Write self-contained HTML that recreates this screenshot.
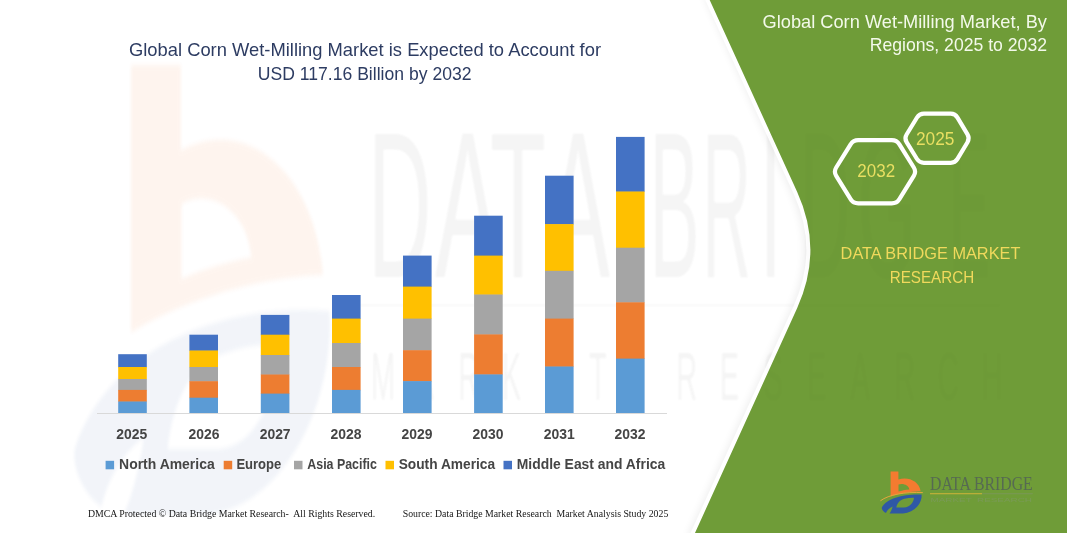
<!DOCTYPE html>
<html><head><meta charset="utf-8">
<style>
html,body{margin:0;padding:0;}
body{width:1067px;height:533px;overflow:hidden;background:#fff;font-family:"Liberation Sans",sans-serif;}
svg{display:block;}
text{white-space:pre;}
</style></head><body>
<svg width="1067" height="533" viewBox="0 0 1067 533">
<defs>
<filter id="b1"><feGaussianBlur stdDeviation="1"/></filter>
<filter id="b4" x="-10%" y="-10%" width="120%" height="120%"><feGaussianBlur stdDeviation="0.25"/></filter>
<filter id="sh" x="-10%" y="-10%" width="120%" height="120%"><feGaussianBlur stdDeviation="4"/></filter>
</defs>
<rect width="1067" height="533" fill="#ffffff"/>
<!-- watermark logo -->
<g opacity="0.08" filter="url(#b4)" transform="translate(131,65) scale(6.4,10.7) translate(-890.6,-471.6)">
<path fill-rule="evenodd" d="M890.6 471.6 L898.4 471.6 L898.4 479.6 C908 476.3 919.2 481.2 920.6 491.2 C910 491.5 899 493.5 890.6 496.6 Z M898.5 484.6 C903 483 908.8 485.2 909.4 489.6 C905.5 490 901.5 490.8 898.5 491.6 Z" fill="#f47b30"/>
<path fill-rule="evenodd" d="M881.8 507.5 C887 498 905 493.8 921.6 494.6 C922.4 503 915 512.4 903 513.6 L889.5 513.6 C891 511.5 892 509 892.6 506.4 C889.5 507.8 887 510.2 886 512.9 C883.5 511.8 881.4 509.6 881.8 507.5 Z M896.3 507.5 C897.3 502.6 900 499.9 904.5 498.7 C908 497.9 911 497.6 914 497.8 C913.6 502.4 910 507.5 904 507.5 Z" fill="#2f58a5" opacity="0.8"/>
</g>
<g fill="#000" opacity="0.03" filter="url(#b1)">
<g font-family="Liberation Sans" font-size="207"><text x="368.0" y="277" textLength="63.5" lengthAdjust="spacingAndGlyphs">D</text><text x="435.0" y="277" textLength="65.0" lengthAdjust="spacingAndGlyphs">A</text><text x="490.0" y="277" textLength="56.0" lengthAdjust="spacingAndGlyphs">T</text><text x="546.0" y="277" textLength="64.0" lengthAdjust="spacingAndGlyphs">A</text><text x="649.4" y="277" textLength="50.0" lengthAdjust="spacingAndGlyphs">B</text><text x="702.6" y="277" textLength="48.5" lengthAdjust="spacingAndGlyphs">R</text><text x="759.7" y="277" textLength="22.0" lengthAdjust="spacingAndGlyphs">I</text><text x="800.0" y="277" textLength="50.0" lengthAdjust="spacingAndGlyphs">D</text><text x="858.0" y="277" textLength="58.0" lengthAdjust="spacingAndGlyphs">G</text><text x="949.0" y="277" textLength="41.0" lengthAdjust="spacingAndGlyphs">E</text></g>
<rect x="360" y="304.5" width="640" height="1.5"/>
<g transform="translate(371,400) scale(0.42,1)" font-family="Liberation Sans" font-size="69"><text x="0.0" y="0">M</text><text x="103.8" y="0">A</text><text x="207.6" y="0">R</text><text x="311.4" y="0">K</text><text x="415.2" y="0">E</text><text x="519.0" y="0">T</text><text x="726.7" y="0">R</text><text x="830.5" y="0">E</text><text x="934.3" y="0">S</text><text x="1038.1" y="0">E</text><text x="1141.9" y="0">A</text><text x="1245.7" y="0">R</text><text x="1349.5" y="0">C</text><text x="1453.3" y="0">H</text></g>
</g>
<!-- green panel -->
<path d="M703.7 -5 L791.2 191.9 Q817.6 249.8 791.2 307.9 L687 538 L1080 538 L1080 -5 Z" fill="#000" opacity="0.07" filter="url(#sh)"/>
<path d="M707.4 -5 L797.2 191.9 Q823.6 249.8 797.2 307.9 L692.7 538 L1080 538 L1080 -5 Z" fill="#fff" stroke="#fff" stroke-width="8"/>
<path d="M707.4 -5 L797.2 191.9 Q823.6 249.8 797.2 307.9 L692.7 538 L1080 538 L1080 -5 Z" fill="#6f9c38"/>
<!-- watermark text -->
<g fill="#000" opacity="0.013" filter="url(#b1)">
<g font-family="Liberation Sans" font-size="207"><text x="368.0" y="277" textLength="63.5" lengthAdjust="spacingAndGlyphs">D</text><text x="435.0" y="277" textLength="65.0" lengthAdjust="spacingAndGlyphs">A</text><text x="490.0" y="277" textLength="56.0" lengthAdjust="spacingAndGlyphs">T</text><text x="546.0" y="277" textLength="64.0" lengthAdjust="spacingAndGlyphs">A</text><text x="649.4" y="277" textLength="50.0" lengthAdjust="spacingAndGlyphs">B</text><text x="702.6" y="277" textLength="48.5" lengthAdjust="spacingAndGlyphs">R</text><text x="759.7" y="277" textLength="22.0" lengthAdjust="spacingAndGlyphs">I</text><text x="800.0" y="277" textLength="50.0" lengthAdjust="spacingAndGlyphs">D</text><text x="858.0" y="277" textLength="58.0" lengthAdjust="spacingAndGlyphs">G</text><text x="949.0" y="277" textLength="41.0" lengthAdjust="spacingAndGlyphs">E</text></g>
<rect x="360" y="304.5" width="640" height="1.5"/>
<g transform="translate(371,400) scale(0.42,1)" font-family="Liberation Sans" font-size="69"><text x="0.0" y="0">M</text><text x="103.8" y="0">A</text><text x="207.6" y="0">R</text><text x="311.4" y="0">K</text><text x="415.2" y="0">E</text><text x="519.0" y="0">T</text><text x="726.7" y="0">R</text><text x="830.5" y="0">E</text><text x="934.3" y="0">S</text><text x="1038.1" y="0">E</text><text x="1141.9" y="0">A</text><text x="1245.7" y="0">R</text><text x="1349.5" y="0">C</text><text x="1453.3" y="0">H</text></g>
</g>
<!-- axis -->
<rect x="97" y="413" width="570" height="1" fill="#d9d9d9"/>
<rect x="118.2" y="354.2" width="28.6" height="13.2" fill="#4472c4"/>
<rect x="118.2" y="367.0" width="28.6" height="12.4" fill="#ffc000"/>
<rect x="118.2" y="379.0" width="28.6" height="11.3" fill="#a5a5a5"/>
<rect x="118.2" y="389.9" width="28.6" height="12.0" fill="#ed7d31"/>
<rect x="118.2" y="401.5" width="28.6" height="11.5" fill="#5b9bd5"/>
<rect x="189.4" y="334.7" width="28.6" height="16.2" fill="#4472c4"/>
<rect x="189.4" y="350.5" width="28.6" height="16.9" fill="#ffc000"/>
<rect x="189.4" y="367.0" width="28.6" height="14.6" fill="#a5a5a5"/>
<rect x="189.4" y="381.2" width="28.6" height="16.9" fill="#ed7d31"/>
<rect x="189.4" y="397.7" width="28.6" height="15.3" fill="#5b9bd5"/>
<rect x="260.8" y="314.9" width="28.6" height="20.2" fill="#4472c4"/>
<rect x="260.8" y="334.7" width="28.6" height="20.7" fill="#ffc000"/>
<rect x="260.8" y="355.0" width="28.6" height="19.9" fill="#a5a5a5"/>
<rect x="260.8" y="374.5" width="28.6" height="19.5" fill="#ed7d31"/>
<rect x="260.8" y="393.6" width="28.6" height="19.4" fill="#5b9bd5"/>
<rect x="332.0" y="295.0" width="28.6" height="24.0" fill="#4472c4"/>
<rect x="332.0" y="318.6" width="28.6" height="24.8" fill="#ffc000"/>
<rect x="332.0" y="343.0" width="28.6" height="24.4" fill="#a5a5a5"/>
<rect x="332.0" y="367.0" width="28.6" height="23.3" fill="#ed7d31"/>
<rect x="332.0" y="389.9" width="28.6" height="23.1" fill="#5b9bd5"/>
<rect x="403.0" y="255.6" width="28.6" height="31.4" fill="#4472c4"/>
<rect x="403.0" y="286.6" width="28.6" height="32.4" fill="#ffc000"/>
<rect x="403.0" y="318.6" width="28.6" height="32.0" fill="#a5a5a5"/>
<rect x="403.0" y="350.2" width="28.6" height="31.3" fill="#ed7d31"/>
<rect x="403.0" y="381.1" width="28.6" height="31.9" fill="#5b9bd5"/>
<rect x="474.1" y="215.7" width="28.6" height="40.3" fill="#4472c4"/>
<rect x="474.1" y="255.6" width="28.6" height="39.3" fill="#ffc000"/>
<rect x="474.1" y="294.5" width="28.6" height="40.3" fill="#a5a5a5"/>
<rect x="474.1" y="334.4" width="28.6" height="40.4" fill="#ed7d31"/>
<rect x="474.1" y="374.4" width="28.6" height="38.6" fill="#5b9bd5"/>
<rect x="545.0" y="175.7" width="28.6" height="48.8" fill="#4472c4"/>
<rect x="545.0" y="224.1" width="28.6" height="47.1" fill="#ffc000"/>
<rect x="545.0" y="270.8" width="28.6" height="48.2" fill="#a5a5a5"/>
<rect x="545.0" y="318.6" width="28.6" height="48.3" fill="#ed7d31"/>
<rect x="545.0" y="366.5" width="28.6" height="46.5" fill="#5b9bd5"/>
<rect x="616.0" y="136.9" width="28.6" height="55.0" fill="#4472c4"/>
<rect x="616.0" y="191.5" width="28.6" height="56.6" fill="#ffc000"/>
<rect x="616.0" y="247.7" width="28.6" height="55.0" fill="#a5a5a5"/>
<rect x="616.0" y="302.3" width="28.6" height="56.7" fill="#ed7d31"/>
<rect x="616.0" y="358.6" width="28.6" height="54.4" fill="#5b9bd5"/>

<!-- hexagons -->
<g fill="none" stroke="#fff" stroke-width="4.2" stroke-linejoin="round">
<path d="M836.2 175.9 Q833.6 171.7 836.2 167.5 L850.6 144.4 Q853.2 140.2 858.2 140.2 L891.8 140.2 Q896.8 140.2 899.4 144.4 L913.8 167.5 Q916.4 171.7 913.8 175.9 L899.4 199.1 Q896.8 203.3 891.8 203.3 L858.2 203.3 Q853.2 203.3 850.6 199.1 Z"/>
<path d="M906.6 142.1 Q904.2 138.3 906.6 134.5 L917.0 117.5 Q919.4 113.7 923.9 113.7 L950.7 113.7 Q955.2 113.7 957.5 117.6 L967.5 134.4 Q969.8 138.3 967.5 142.2 L957.5 158.9 Q955.2 162.8 950.7 162.8 L923.9 162.8 Q919.4 162.8 917.0 159.0 Z" fill="#6f9c38"/>
</g>
<text x="129.0" y="56.1" font-family="Liberation Sans" font-size="17.80" font-weight="normal" fill="#2d3c62" textLength="472.0" lengthAdjust="spacingAndGlyphs" >Global Corn Wet-Milling Market is Expected to Account for</text>
<text x="257.8" y="80.0" font-family="Liberation Sans" font-size="17.80" font-weight="normal" fill="#2d3c62" textLength="213.7" lengthAdjust="spacingAndGlyphs" >USD 117.16 Billion by 2032</text>
<text x="762.5" y="27.6" font-family="Liberation Sans" font-size="17.80" font-weight="normal" fill="#f3f9ea" textLength="284.5" lengthAdjust="spacingAndGlyphs" >Global Corn Wet-Milling Market, By</text>
<text x="869.7" y="51.1" font-family="Liberation Sans" font-size="17.80" font-weight="normal" fill="#f3f9ea" textLength="177.3" lengthAdjust="spacingAndGlyphs" >Regions, 2025 to 2032</text>
<text x="840.6" y="258.5" font-family="Liberation Sans" font-size="17.30" font-weight="normal" fill="#f0d95c" textLength="179.8" lengthAdjust="spacingAndGlyphs" >DATA BRIDGE MARKET</text>
<text x="889.7" y="282.6" font-family="Liberation Sans" font-size="17.30" font-weight="normal" fill="#f0d95c" textLength="84.5" lengthAdjust="spacingAndGlyphs" >RESEARCH</text>
<text x="857.3" y="177.0" font-family="Liberation Sans" font-size="18.00" font-weight="normal" fill="#e9df62" textLength="37.8" lengthAdjust="spacingAndGlyphs" >2032</text>
<text x="915.9" y="144.9" font-family="Liberation Sans" font-size="18.00" font-weight="normal" fill="#e9df62" textLength="38.5" lengthAdjust="spacingAndGlyphs" >2025</text>
<text x="116.3" y="439.1" font-family="Liberation Sans" font-size="14.20" font-weight="bold" fill="#454545" textLength="30.9" lengthAdjust="spacingAndGlyphs" >2025</text>
<text x="188.6" y="439.1" font-family="Liberation Sans" font-size="14.20" font-weight="bold" fill="#454545" textLength="30.9" lengthAdjust="spacingAndGlyphs" >2026</text>
<text x="259.7" y="439.1" font-family="Liberation Sans" font-size="14.20" font-weight="bold" fill="#454545" textLength="30.9" lengthAdjust="spacingAndGlyphs" >2027</text>
<text x="330.5" y="439.1" font-family="Liberation Sans" font-size="14.20" font-weight="bold" fill="#454545" textLength="31.0" lengthAdjust="spacingAndGlyphs" >2028</text>
<text x="401.5" y="439.1" font-family="Liberation Sans" font-size="14.20" font-weight="bold" fill="#454545" textLength="30.9" lengthAdjust="spacingAndGlyphs" >2029</text>
<text x="472.6" y="439.1" font-family="Liberation Sans" font-size="14.20" font-weight="bold" fill="#454545" textLength="30.9" lengthAdjust="spacingAndGlyphs" >2030</text>
<text x="543.7" y="439.1" font-family="Liberation Sans" font-size="14.20" font-weight="bold" fill="#454545" textLength="31.0" lengthAdjust="spacingAndGlyphs" >2031</text>
<text x="614.6" y="439.1" font-family="Liberation Sans" font-size="14.20" font-weight="bold" fill="#454545" textLength="30.9" lengthAdjust="spacingAndGlyphs" >2032</text>
<rect x="105.6" y="460.8" width="8.5" height="8.5" fill="#5b9bd5"/>
<text x="119.1" y="469.2" font-family="Liberation Sans" font-size="14.20" font-weight="bold" fill="#454545" textLength="95.6" lengthAdjust="spacingAndGlyphs" >North America</text>
<rect x="223.7" y="460.8" width="8.5" height="8.5" fill="#ed7d31"/>
<text x="236.4" y="469.2" font-family="Liberation Sans" font-size="14.20" font-weight="bold" fill="#454545" textLength="44.9" lengthAdjust="spacingAndGlyphs" >Europe</text>
<rect x="294.0" y="460.8" width="8.5" height="8.5" fill="#a5a5a5"/>
<text x="307.3" y="469.2" font-family="Liberation Sans" font-size="14.20" font-weight="bold" fill="#454545" textLength="69.6" lengthAdjust="spacingAndGlyphs" >Asia Pacific</text>
<rect x="385.5" y="460.8" width="8.5" height="8.5" fill="#ffc000"/>
<text x="398.7" y="469.2" font-family="Liberation Sans" font-size="14.20" font-weight="bold" fill="#454545" textLength="96.4" lengthAdjust="spacingAndGlyphs" >South America</text>
<rect x="503.5" y="460.8" width="8.5" height="8.5" fill="#4472c4"/>
<text x="516.8" y="469.2" font-family="Liberation Sans" font-size="14.20" font-weight="bold" fill="#454545" textLength="148.4" lengthAdjust="spacingAndGlyphs" >Middle East and Africa</text>
<text x="87.9" y="517.4" font-family="Liberation Serif" font-size="9.50" font-weight="normal" fill="#151515" textLength="287.3" lengthAdjust="spacingAndGlyphs" xml:space="preserve">DMCA Protected © Data Bridge Market Research-  All Rights Reserved.</text>
<text x="402.7" y="517.4" font-family="Liberation Serif" font-size="9.50" font-weight="normal" fill="#151515" textLength="265.6" lengthAdjust="spacingAndGlyphs" xml:space="preserve">Source: Data Bridge Market Research  Market Analysis Study 2025</text>
<text x="930.0" y="490.4" font-family="Liberation Serif" font-size="19.20" font-weight="normal" fill="#566a52" textLength="102.7" lengthAdjust="spacingAndGlyphs" >DATA BRIDGE</text>
<text x="930.5" y="502.3" font-family="Liberation Sans" font-size="5.20" font-weight="normal" fill="#7a9a56" textLength="101.5" lengthAdjust="spacingAndGlyphs" xml:space="preserve">MARKET  RESEARCH</text>


<g id="logo">
<path id="lgO" fill-rule="evenodd" d="M890.6 471.6 L898.4 471.6 L898.4 479.6 C908 476.3 919.2 481.2 920.6 491.2 C910 491.5 899 493.5 890.6 496.6 Z M898.5 484.6 C903 483 908.8 485.2 909.4 489.6 C905.5 490 901.5 490.8 898.5 491.6 Z" fill="#f47b30"/>
<path id="lgS" d="M880.4 500.8 C889 494.5 905 491.8 922.8 492.6" fill="none" stroke="#e3a63c" stroke-width="1"/>
<path id="lgB" fill-rule="evenodd" d="M881.8 507.5 C887 498 905 493.8 921.6 494.6 C922.4 503 915 512.4 903 513.6 L889.5 513.6 C891 511.5 892 509 892.6 506.4 C889.5 507.8 887 510.2 886 512.9 C883.5 511.8 881.4 509.6 881.8 507.5 Z M896.3 507.5 C897.3 502.6 900 499.9 904.5 498.7 C908 497.9 911 497.6 914 497.8 C913.6 502.4 910 507.5 904 507.5 Z" fill="#2f58a5"/>
<rect x="930" y="493.3" width="52" height="0.9" fill="#d9b73a"/><rect x="982" y="493.3" width="50.7" height="0.9" fill="#7f9663" opacity="0.8"/>
</g>

</svg>
</body></html>
